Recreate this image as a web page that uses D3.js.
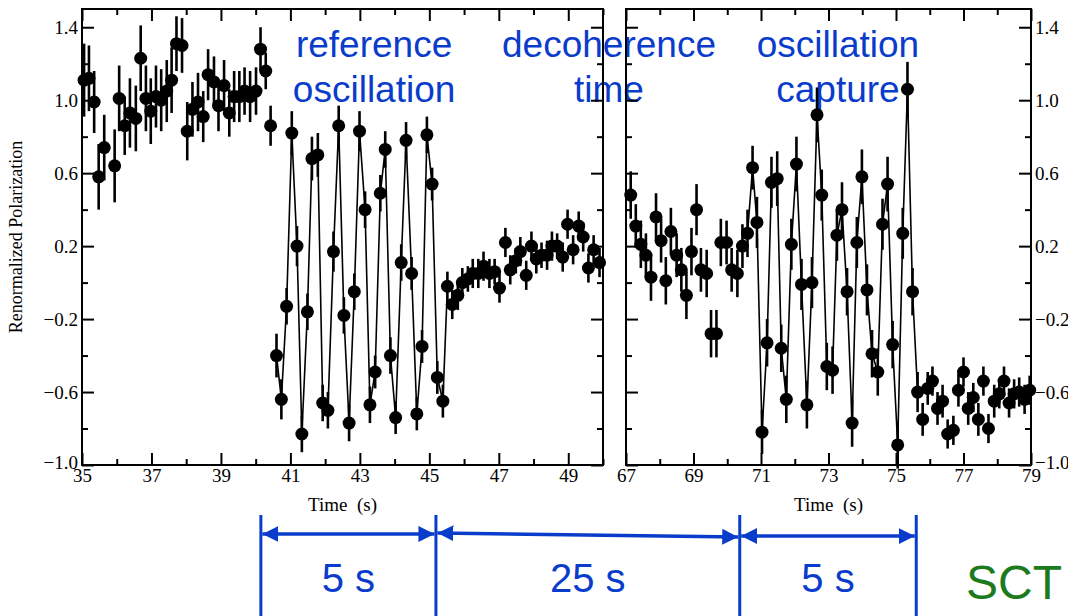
<!DOCTYPE html>
<html>
<head>
<meta charset="utf-8">
<script src="https://cdn.jsdelivr.net/npm/d3@7"></script>
<style>
  body { margin: 0; background: #fff; }
  svg { display: block; }
</style>
</head>
<body>
<div id="chart"></div>
<script>
// ---- data ----
const leftTime = [
  35.06, 35.20, 35.35, 35.48, 35.64, 35.94, 36.07, 36.23, 36.38, 36.55, 36.69, 36.84,
  36.98, 37.13, 37.28, 37.44, 37.58, 37.72, 37.88, 38.03, 38.18, 38.34, 38.49, 38.63,
  38.80, 38.93, 39.09, 39.24, 39.38, 39.53, 39.68, 39.84, 40.01, 40.14, 40.29, 40.43,
  40.60, 40.74, 40.89, 41.04, 41.19, 41.33, 41.49, 41.62, 41.79, 41.93, 42.08, 42.24,
  42.39, 42.54, 42.69, 42.84, 42.99, 43.15, 43.29, 43.44, 43.59, 43.73, 43.88, 44.03,
  44.19, 44.33, 44.49, 44.64, 44.79, 44.93, 45.08, 45.23, 45.39, 45.52,
  45.66, 45.82, 45.95, 46.11, 46.25, 46.41, 46.56, 46.73, 46.88, 47.02, 47.19, 47.33,
  47.49, 47.62, 47.79, 47.94, 48.08, 48.23, 48.39, 48.53, 48.68, 48.84, 48.98, 49.14,
  49.30, 49.43, 49.58, 49.73, 49.90
];
const leftValue = [
  1.11, 1.12, 0.99, 0.58, 0.74, 0.64, 1.01, 0.86, 0.93, 0.90, 1.23, 1.01,
  0.94, 1.02, 1.00, 1.05, 1.11, 1.31, 1.30, 0.83, 0.95, 0.99, 0.91, 1.14,
  1.10, 0.97, 1.08, 0.93, 1.02, 1.02, 1.05, 1.02, 1.05, 1.28, 1.16, 0.86,
  -0.40, -0.64, -0.13, 0.82, 0.20, -0.83, -0.16, 0.68, 0.70, -0.66, -0.70, 0.17,
  0.86, -0.18, -0.77, -0.05, 0.83, 0.40, -0.67, -0.49, 0.49, 0.73, -0.40, -0.74,
  0.11, 0.78, 0.05, -0.72, -0.35, 0.81, 0.54, -0.52, -0.65, -0.02,
  -0.12, -0.07, 0.00, 0.02, 0.05, 0.05, 0.09, 0.05, 0.06, -0.03, 0.22, 0.07,
  0.12, 0.17, 0.04, 0.20, 0.13, 0.15, 0.15, 0.20, 0.20, 0.14, 0.32, 0.18,
  0.31, 0.25, 0.08, 0.18, 0.11
];
const leftError = [
  0.20, 0.18, 0.17, 0.18, 0.18, 0.20, 0.18, 0.16, 0.19, 0.18, 0.18, 0.18,
  0.18, 0.17, 0.17, 0.17, 0.18, 0.15, 0.15, 0.16, 0.15, 0.16, 0.14, 0.14,
  0.14, 0.14, 0.14, 0.13, 0.14, 0.14, 0.13, 0.14, 0.13, 0.12, 0.10, 0.11,
  0.12, 0.11, 0.10, 0.12, 0.11, 0.10, 0.10, 0.12, 0.12, 0.10, 0.10, 0.11,
  0.11, 0.10, 0.10, 0.10, 0.11, 0.10, 0.10, 0.09, 0.10, 0.10, 0.10, 0.09,
  0.10, 0.10, 0.09, 0.09, 0.09, 0.10, 0.09, 0.09, 0.09, 0.08,
  0.08, 0.08, 0.08, 0.07, 0.08, 0.08, 0.08, 0.08, 0.07, 0.08, 0.08, 0.08,
  0.07, 0.08, 0.08, 0.08, 0.08, 0.07, 0.08, 0.08, 0.07, 0.08, 0.08, 0.08,
  0.08, 0.08, 0.08, 0.08, 0.08
];

const rightTime = [
  67.14, 67.29, 67.44, 67.59, 67.74, 67.89, 68.04, 68.18, 68.33, 68.50, 68.64, 68.79,
  68.94, 69.09, 69.22, 69.39, 69.52, 69.68, 69.81, 69.98, 70.13, 70.30, 70.45,
  70.60, 70.75, 70.88, 71.03, 71.18, 71.31, 71.48, 71.60, 71.75, 71.90, 72.05, 72.20,
  72.36, 72.51, 72.66, 72.80, 72.95, 73.12, 73.25, 73.40, 73.55, 73.70, 73.84, 73.99,
  74.14, 74.29, 74.46, 74.60, 74.75, 74.90, 75.05, 75.20, 75.34, 75.49, 75.64,
  75.79, 75.94, 76.08, 76.23, 76.38, 76.53, 76.70, 76.85, 77.00, 77.14, 77.29, 77.44,
  77.59, 77.74, 77.91, 78.06, 78.20, 78.35, 78.50, 78.65, 78.81, 78.96
];
const rightValue = [
  0.48, 0.31, 0.21, 0.15, 0.03, 0.36, 0.23, 0.01, 0.28, 0.15, 0.07, -0.07,
  0.17, 0.40, 0.07, 0.05, -0.28, -0.28, 0.22, 0.22, 0.07, 0.05, 0.20,
  0.27, 0.63, 0.33, -0.82, -0.33, 0.55, 0.57, -0.36, -0.64, 0.21, 0.65, -0.01,
  -0.67, 0.00, 0.92, 0.48, -0.46, -0.48, 0.26, 0.40, -0.05, -0.77, 0.22, 0.58,
  -0.04, -0.39, -0.49, 0.32, 0.54, -0.34, -0.89, 0.27, 1.06, -0.05, -0.60,
  -0.75, -0.58, -0.54, -0.69, -0.65, -0.83, -0.81, -0.59, -0.49, -0.69, -0.63, -0.75,
  -0.54, -0.80, -0.65, -0.61, -0.54, -0.66, -0.61, -0.60, -0.64, -0.59
];
const rightError = [
  0.13, 0.12, 0.13, 0.12, 0.13, 0.13, 0.12, 0.13, 0.13, 0.12, 0.12, 0.13,
  0.13, 0.14, 0.12, 0.13, 0.13, 0.13, 0.13, 0.12, 0.12, 0.13, 0.12,
  0.13, 0.12, 0.14, 0.12, 0.13, 0.14, 0.15, 0.13, 0.13, 0.14, 0.15, 0.14,
  0.13, 0.14, 0.15, 0.14, 0.13, 0.13, 0.14, 0.15, 0.13, 0.13, 0.14, 0.15,
  0.14, 0.13, 0.13, 0.14, 0.15, 0.13, 0.13, 0.14, 0.15, 0.13, 0.11,
  0.09, 0.09, 0.08, 0.09, 0.09, 0.08, 0.08, 0.09, 0.08, 0.09, 0.08, 0.09,
  0.08, 0.08, 0.09, 0.08, 0.08, 0.08, 0.08, 0.08, 0.08, 0.08
];

// stretch of each panel where the points are joined by a line
const leftLineRange = [40.60, 45.52];
const rightLineRange = [70.60, 75.64];

// tick values
const leftMajorX = [35, 37, 39, 41, 43, 45, 47, 49];
const leftMinorX = [36, 38, 40, 42, 44, 46, 48, 50];
const rightMajorX = [67, 69, 71, 73, 75, 77, 79];
const rightMinorX = [68, 70, 72, 74, 76, 78];
const majorY = [1.4, 1.0, 0.6, 0.2, -0.2, -0.6, -1.0];
const minorY = [1.2, 0.8, 0.4, 0.0, -0.4, -0.8];

// annotation texts and the time marks of the arrows below
const topNotes = [
  { panel: "left", t: 43.41, lines: ["reference", "oscillation"] },
  { panel: "gap", lines: ["decoherence", "time"] },
  { panel: "right", t: 73.28, lines: ["oscillation", "capture"] }
];
const leftMarks = [40.15, 45.19];
const rightMarks = [70.37, 75.60];
const spanLabels = ["5 s", "25 s", "5 s"];

function main() {
  const W = 1068, H = 616;
  const top = 9, bottom = 465;
  const blue = "#0a3ccc";
  const serif = "'Liberation Serif', 'DejaVu Serif', serif";
  const sans = "'Liberation Sans', Arial, sans-serif";

  const svg = d3.select("#chart").append("svg")
    .attr("width", W).attr("height", H);

  const y = d3.scaleLinear().domain([-1.0, 1.5]).range([bottom, top]);
  const xL = d3.scaleLinear().domain([35, 50]).range([82, 603]);
  const xR = d3.scaleLinear().domain([67, 79]).range([626, 1031]);

  // ---- blue annotations at the top (drawn under the data) ----
  const noteX = (n) => n.panel === "left" ? xL(n.t) : n.panel === "right" ? xR(n.t) : 609;
  topNotes.forEach((n) => {
    n.lines.forEach((line, i) => {
      svg.append("text")
        .attr("x", noteX(n))
        .attr("y", 57 + i * 45)
        .attr("text-anchor", "middle")
        .style("font-family", sans)
        .style("font-size", "37px")
        .attr("fill", blue)
        .text(line);
    });
  });

  // ---- one panel ----
  function panel(x, times, values, errors, lineRange, majorX, minorX, labelSide) {
    const g = svg.append("g");
    const [x0, x1] = x.range();

    // axes, ticks point inward
    function addAxis(axis, tx, ty, size, vals, labels) {
      const a = g.append("g")
        .attr("transform", `translate(${tx},${ty})`)
        .call(axis.tickValues(vals).tickSize(size).tickSizeOuter(0)
          .tickPadding(labels ? 4 : 0)
          .tickFormat(labels ? d3.format(".1f") : () => ""));
      a.select(".domain").remove();
      a.selectAll("line").attr("stroke", "#000").attr("stroke-width", 2);
      a.selectAll("text")
        .style("font-family", serif)
        .style("font-size", "19px")
        .attr("fill", "#000");
      return a;
    }
    const xb = addAxis(d3.axisBottom(x), 0, bottom, -12, majorX, true);
    xb.selectAll("text").text((d) => d).attr("dy", "0.68em");
    addAxis(d3.axisBottom(x), 0, bottom, -6, minorX, false);
    addAxis(d3.axisTop(x), 0, top, -12, majorX, false);
    addAxis(d3.axisTop(x), 0, top, -6, minorX, false);
    const yl = addAxis(d3.axisLeft(y), x0, 0, -12, majorY, labelSide === "left");
    addAxis(d3.axisLeft(y), x0, 0, -6, minorY, false);
    const yr = addAxis(d3.axisRight(y), x1, 0, -12, majorY, labelSide === "right");
    addAxis(d3.axisRight(y), x1, 0, -6, minorY, false);
    // the lowest label sits a little higher, as in the original
    [yl, yr].forEach((a) => a.selectAll("text").filter((d) => d === -1.0).attr("dy", "0.2em"));

    // frame
    g.append("rect")
      .attr("x", x0).attr("y", top)
      .attr("width", x1 - x0).attr("height", bottom - top)
      .attr("fill", "none").attr("stroke", "#000").attr("stroke-width", 2);

    // x axis title
    g.append("text")
      .attr("x", (x0 + x1) / 2)
      .attr("y", 511)
      .attr("text-anchor", "middle")
      .style("font-family", serif)
      .style("font-size", "19px")
      .style("white-space", "pre")
      .text("Time  (s)");

    const pts = times.map((t, i) => ({ t: t, v: values[i], e: errors[i] }));

    // connecting line over the oscillation stretch
    const linePts = pts.filter((d) => d.t >= lineRange[0] - 1e-6 && d.t <= lineRange[1] + 1e-6);
    g.append("path")
      .datum(linePts)
      .attr("fill", "none")
      .attr("stroke", "#000")
      .attr("stroke-width", 1.6)
      .attr("d", d3.line().x((d) => x(d.t)).y((d) => y(d.v)));

    // error bars
    g.selectAll(".err")
      .data(pts)
      .join("line")
      .attr("class", "err")
      .attr("x1", (d) => x(d.t)).attr("x2", (d) => x(d.t))
      .attr("y1", (d) => y(d.v - d.e)).attr("y2", (d) => y(d.v + d.e))
      .attr("stroke", "#000")
      .attr("stroke-width", 2.6);

    // points
    g.selectAll(".pt")
      .data(pts)
      .join("circle")
      .attr("class", "pt")
      .attr("cx", (d) => x(d.t))
      .attr("cy", (d) => y(d.v))
      .attr("r", 6.5)
      .attr("fill", "#000");
  }

  panel(xL, leftTime, leftValue, leftError, leftLineRange, leftMajorX, leftMinorX, "left");
  panel(xR, rightTime, rightValue, rightError, rightLineRange, rightMajorX, rightMinorX, "right");

  // y axis title
  svg.append("text")
    .attr("transform", `translate(22,${(top + bottom) / 2}) rotate(-90)`)
    .attr("text-anchor", "middle")
    .style("font-family", serif)
    .style("font-size", "18px")
    .text("Renormalized Polarization");

  // ---- arrows and spans below ----
  const marks = [xL(leftMarks[0]), xL(leftMarks[1]), xR(rightMarks[0]), xR(rightMarks[1])];
  const defs = svg.append("defs");
  ["start", "end"].forEach((k) => {
    defs.append("marker")
      .attr("id", "arrow-" + k)
      .attr("viewBox", "0 0 10 10")
      .attr("refX", k === "end" ? 10 : 0).attr("refY", 5)
      .attr("markerUnits", "userSpaceOnUse")
      .attr("markerWidth", 16).attr("markerHeight", 16)
      .attr("orient", "auto")
      .append("path")
      .attr("d", k === "end" ? "M0,0 L10,5 L0,10 Z" : "M10,0 L0,5 L10,10 Z")
      .attr("fill", blue);
  });

  marks.forEach((m) => {
    svg.append("line")
      .attr("x1", m).attr("x2", m)
      .attr("y1", 515).attr("y2", H)
      .attr("stroke", blue).attr("stroke-width", 3);
  });

  const arrowY = [[534, 534], [533, 537], [536, 536]];
  for (let i = 0; i < 3; i++) {
    const a = marks[i] + 1.5, b = marks[i + 1] - 1.5;
    svg.append("line")
      .attr("x1", a).attr("y1", arrowY[i][0])
      .attr("x2", b).attr("y2", arrowY[i][1])
      .attr("stroke", blue).attr("stroke-width", 3.5)
      .attr("marker-start", "url(#arrow-start)")
      .attr("marker-end", "url(#arrow-end)");
    svg.append("text")
      .attr("x", (marks[i] + marks[i + 1]) / 2)
      .attr("y", 592)
      .attr("text-anchor", "middle")
      .style("font-family", sans)
      .style("font-size", "40px")
      .attr("fill", blue)
      .text(spanLabels[i]);
  }

  svg.append("text")
    .attr("x", 966)
    .attr("y", 599)
    .style("font-family", sans)
    .style("font-size", "48px")
    .attr("fill", "#1d7a1d")
    .text("SCT");
}

main();
</script>
</body>
</html>
